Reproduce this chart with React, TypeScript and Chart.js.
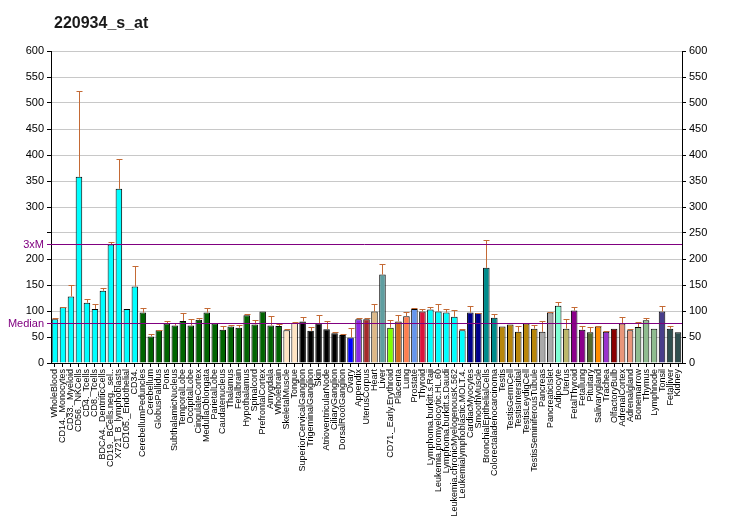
import React, { useEffect, useRef } from "react";
import { Chart, registerables } from "chart.js";

Chart.register(...registerables);

const title = "220934_s_at";

const categories: string[] = [
  "WholeBlood", "CD14._Monocytes", "CD33._Myeloid", "CD56._NKCells", "CD4._Tcells", "CD8._Tcells",
  "BDCA4._DentriticCells", "CD19._BCells.neg._sel..", "X721_B_lymphoblasts", "CD105._Endothelial", "CD34.",
  "CerebellumPeduncles", "Cerebellum", "GlobusPallidus", "Pons", "SubthalamicNucleus", "TemporalLobe",
  "OccipitalLobe", "CingulateCortex", "MedullaOblongata", "ParietalLobe", "Caudatenucleus", "Thalamus",
  "Fetalbrain", "Hypothalamus", "Spinalcord", "PrefrontalCortex", "Amygdala", "Wholebrain",
  "SkeletalMuscle", "Tongue", "SuperiorCervicalGanglion", "TrigeminalGanglion", "Skin",
  "AtrioventricularNode", "CiliaryGanglion", "DorsalRootGanglion", "Ovary", "Appendix", "UterusCorpus",
  "Heart", "Liver", "CD71._Early.Erythroid", "Placenta", "Lung", "Prostate", "Thyroid",
  "Lymphoma.burkitt.s.Raji", "Leukemia.promyelocytic.HL.60", "Lymphoma.burkitt.s.Daudi",
  "Leukemia.chronicMyelogenousK.562", "Leukemialymphoblastic.MOLT.4.", "CardiacMyocytes", "SmoothMuscle",
  "BronchialEpithelialCells", "Colorectaladenocarcinoma", "Testis", "TestisGermCell", "TestisIntersitial",
  "TestisLeydigCell", "TestisSeminiferousTubule", "Pancreas", "PancreaticIslet", "Adipocyte", "Uterus",
  "FetalThyroid", "Fetallung", "Pituitary", "Salivarygland", "Trachea", "OlfactoryBulb", "AdrenalCortex",
  "Adrenalgland", "Bonemarrow", "Thymus", "Lymphnode", "Tonsil", "Fetalliver", "Kidney",
];

const values: number[] = [
  84, 107, 128, 358, 116, 104, 139, 228, 335, 104, 147,
  97, 51, 63, 76, 72, 81, 72, 83, 97, 76, 64, 70, 68, 92, 74, 99, 72, 71,
  63, 77, 80, 62, 76, 65, 57, 54, 49, 84, 84, 99, 170, 68, 80, 90, 104, 99,
  103, 99, 97, 89, 63, 97, 96, 183, 87,
  70, 74, 60, 76, 66, 60, 97, 110, 66, 101, 64, 59, 70, 60, 66, 76, 63, 69, 82, 66, 99, 66, 59,
];

const errors: number[] = [
  3, 1, 22, 165, 8, 10, 6, 5, 57, 0, 40,
  9, 4, 1, 4, 5, 16, 13, 4, 9, 0, 8, 4, 6, 3, 9, 0, 18, 4,
  3, 1, 9, 8, 17, 15, 2, 2, 19, 2, 2, 15, 21, 14, 13, 9, 2, 4,
  4, 15, 6, 12, 3, 13, 1, 54, 8,
  0, 0, 12, 1, 8, 20, 2, 8, 19, 7, 8, 11, 2, 2, 0, 13, 3, 9, 4, 0, 10, 6, 0,
];

const colors: string[] = [
  ...Array(11).fill("#00FFFF"),
  ...Array(18).fill("#006400"),
  "#FFE4C4", "#FFE4C4",
  ...Array(6).fill("#000000"),
  "#0000FF", "#8A2BE2", "#A52A2A", "#DEB887", "#5F9EA0", "#7FFF00", "#D2691E", "#FF7F50", "#6495ED", "#DC143C",
  ...Array(5).fill("#00FFFF"),
  "#00008B", "#00008B", "#008B8B", "#008B8B",
  ...Array(5).fill("#B8860B"),
  "#A9A9A9", "#A9A9A9", "#7FFFD4", "#BDB76B", "#8B008B", "#8B008B", "#556B2F", "#FF8C00", "#9932CC", "#8B0000",
  "#E9967A", "#E9967A", "#8FBC8F", "#8FBC8F", "#8FBC8F", "#483D8B", "#2F4F4F", "#2F4F4F",
];

const medianValue = 76;
const threeXMValue = 228;
const yMax = 600;
const yStep = 50;

const overlayPlugin = {
  id: "overlay",
  afterDatasetsDraw(chart: any) {
    const { ctx, chartArea, scales } = chart;
    const y = scales.y;
    const meta = chart.getDatasetMeta(0);
    ctx.save();
    // error bars
    ctx.strokeStyle = "#C46A35";
    ctx.lineWidth = 1;
    meta.data.forEach((bar: any, i: number) => {
      const e = errors[i];
      if (!e) return;
      const x = Math.round(bar.x) + 0.5;
      const yTop = Math.round(y.getPixelForValue(values[i] + e)) + 0.5;
      const yBar = bar.y;
      ctx.beginPath();
      ctx.moveTo(x, yBar);
      ctx.lineTo(x, yTop);
      ctx.moveTo(x - 3, yTop);
      ctx.lineTo(x + 3, yTop);
      ctx.stroke();
    });
    // median / 3xM lines
    ctx.strokeStyle = "#800080";
    ctx.lineWidth = 1;
    ctx.fillStyle = "#800080";
    ctx.font = '11px "Liberation Sans", Arial, sans-serif';
    ctx.textAlign = "right";
    ctx.textBaseline = "middle";
    const lines: [number, string][] = [
      [threeXMValue, "3xM"],
      [medianValue, "Median"],
    ];
    lines.forEach(([v, label]) => {
      const py = Math.round(y.getPixelForValue(v)) + 0.5;
      ctx.beginPath();
      ctx.moveTo(chartArea.left - 4, py);
      ctx.lineTo(chartArea.right, py);
      ctx.stroke();
      ctx.fillText(label, chartArea.left - 7, py);
    });
    ctx.restore();
  },
  afterDraw(chart: any) {
    const { ctx } = chart;
    ctx.save();
    ctx.fillStyle = "#1a1a1a";
    ctx.font = 'bold 16px "Liberation Sans", Arial, sans-serif';
    ctx.textAlign = "left";
    ctx.textBaseline = "alphabetic";
    ctx.fillText(title, 54, 28);
    ctx.restore();
  },
};

export default function App() {
  const ref = useRef<HTMLCanvasElement | null>(null);
  useEffect(() => {
    if (!ref.current) return;
    const tickFont = { family: '"Liberation Sans", Arial, sans-serif', size: 11 };
    const chart = new Chart(ref.current, {
      type: "bar",
      data: {
        labels: categories,
        datasets: [
          {
            data: values,
            backgroundColor: colors,
            borderColor: "#000000",
            borderWidth: 1,
            barPercentage: 0.82,
            categoryPercentage: 1,
            yAxisID: "y",
          },
        ],
      },
      options: {
        animation: false,
        responsive: false,
        devicePixelRatio: 1,
        layout: { padding: { top: 51, left: 0, right: 0, bottom: 0 } },
        plugins: { legend: { display: false }, tooltip: { enabled: false }, title: { display: false } },
        scales: {
          x: {
            offset: true,
            grid: { display: true, drawOnChartArea: false, offset: false, tickLength: 4, color: "#000000" },
            border: { display: true, color: "#000000" },
            ticks: {
              autoSkip: false,
              maxRotation: 90,
              minRotation: 90,
              padding: 2,
              color: "#000000",
              font: { family: '"Liberation Sans", Arial, sans-serif', size: 9 },
            },
            afterFit(scale: any) {
              scale.height = 167;
            },
          },
          y: {
            position: "left",
            min: 0,
            max: yMax,
            grid: { color: "#C8C8C8", tickColor: "#000000", tickLength: 4 },
            border: { display: true, color: "#000000" },
            ticks: {
              stepSize: yStep,
              padding: 3,
              color: "#000000",
              font: tickFont,
              callback: (v: any) => (v === 250 ? "" : String(v)),
            },
            afterFit(scale: any) {
              scale.width = 51;
            },
          },
          y2: {
            position: "right",
            min: 0,
            max: yMax,
            grid: { drawOnChartArea: false, tickColor: "#000000", tickLength: 4 },
            border: { display: true, color: "#000000" },
            ticks: { stepSize: yStep, padding: 3, color: "#000000", font: tickFont },
            afterFit(scale: any) {
              scale.width = 50;
            },
          },
        },
      },
      plugins: [overlayPlugin],
    } as any);
    return () => chart.destroy();
  }, []);
  return (
    <div style={{ position: "absolute", left: 0, top: 0, width: 732, height: 530, background: "#ffffff" }}>
      <canvas ref={ref} width={732} height={530} style={{ width: 732, height: 530 }} />
    </div>
  );
}
